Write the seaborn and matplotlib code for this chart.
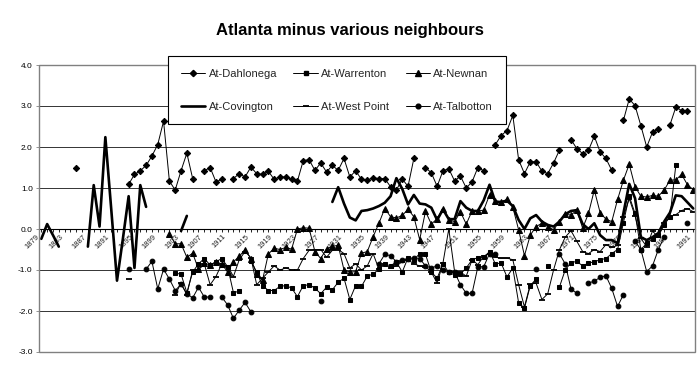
import numpy as np
import pandas as pd
import matplotlib
matplotlib.use("Agg")
import matplotlib.pyplot as plt
import seaborn as sns
from matplotlib.lines import Line2D
from matplotlib.patches import Rectangle

N = None
years = list(range(1879, 1992))

dahlonega = [N,
    N, N, N, N, N, 1.50, N, N, N, N,
    N, N, N, N, 1.09, 1.33, 1.42, 1.55, 1.78, 2.06,
    2.63, 1.17, 0.95, 1.42, 1.85, 1.23, N, 1.42, 1.50, 1.15,
    1.21, N, 1.23, 1.35, 1.27, 1.51, 1.35, 1.33, 1.41, 1.21,
    1.27, 1.27, 1.21, 1.17, 1.67, 1.69, 1.43, 1.61, 1.39, 1.55,
    1.43, 1.72, 1.27, 1.42, 1.21, 1.19, 1.25, 1.23, 1.23, 1.03,
    0.95, 1.22, 1.04, 1.72, N, 1.50, 1.37, 1.04, 1.42, 1.47,
    1.17, 1.29, 1.00, 1.15, 1.50, 1.42, N, 2.06, 2.28, 2.40,
    2.77, 1.69, 1.35, 1.64, 1.64, 1.41, 1.35, 1.61, 1.92, N,
    2.18, 1.96, 1.84, 1.92, 2.26, 1.88, 1.72, 1.43, N, 2.65,
    3.17, 3.01, 2.52, 2.00, 2.36, 2.44, N, 2.54, 2.97, 2.89,
    2.87, N]

warrenton = [N,
    N, N, N, N, N, N, N, N, N, N,
    N, N, N, N, N, N, N, N, N, N,
    N, N, -1.08, -1.10, -1.55, -1.05, -0.85, -0.72, -0.88, -0.80,
    -0.72, -0.92, -1.55, -1.52, N, -0.78, -1.05, -1.38, -1.50, -1.50,
    -1.40, -1.38, -1.44, -1.65, -1.38, -1.36, -1.44, -1.58, -1.42, -1.48,
    -1.30, -1.20, -1.72, -1.38, -1.40, -1.15, -1.10, -0.98, -0.85, -0.90,
    -0.80, -1.05, -0.70, -0.75, -0.60, -0.62, -1.05, -1.20, -0.85, -1.06,
    -1.12, -1.10, -0.95, -0.75, -0.70, -0.69, -0.55, -0.85, -0.83, -1.17,
    -0.95, -1.80, -1.93, -1.38, -1.22, N, -0.91, N, -1.42, -1.00,
    -0.82, -0.79, -0.90, -0.83, -0.80, -0.75, -0.72, -0.60, -0.50, 0.15,
    0.80, 0.38, -0.50, -0.35, -0.25, -0.15, 0.10, 0.30, 1.55, N,
    N, N]

newnan = [N,
    N, N, N, N, N, N, N, N, N, N,
    N, N, N, N, N, N, N, N, N, N,
    N, -0.12, -0.36, -0.36, -0.69, -0.59, -0.98, -0.83, -0.88, -0.80,
    -0.85, -1.05, -0.80, -0.67, -0.50, -0.72, -1.10, -1.25, -0.61, -0.47,
    -0.50, -0.45, -0.49, 0.00, 0.03, 0.02, -0.55, -0.72, -0.48, -0.42,
    -0.40, -1.00, -1.05, -1.04, -0.59, -0.55, -0.19, 0.14, 0.50, 0.30,
    0.27, 0.33, 0.48, 0.30, -0.26, 0.43, 0.12, 0.25, 0.50, 0.22,
    0.18, 0.42, 0.12, 0.44, 0.44, 0.46, 0.83, 0.69, 0.66, 0.72,
    0.53, -0.02, -0.65, -0.15, 0.06, 0.14, 0.06, -0.02, 0.18, 0.36,
    0.34, 0.46, 0.02, 0.38, 0.95, 0.40, 0.24, 0.18, 0.72, 1.19,
    1.58, 1.03, 0.80, 0.78, 0.82, 0.80, 0.95, 1.19, 1.20, 1.33,
    1.08, 0.96]

covington = [-0.24,
    0.12, -0.15, -0.43, N, N, N, N, -0.43, 1.07, 0.06,
    2.24, 0.50, -1.26, -0.25, 0.80, -0.95, 1.07, 0.54, N, N,
    N, N, N, -0.05, 0.32, N, N, N, N, N,
    N, N, N, N, N, N, N, N, N, N,
    N, N, N, N, N, N, N, N, N, 0.66,
    1.02, 0.62, 0.28, 0.21, 0.44, 0.46, 0.50, 0.56, 0.64, 0.80,
    1.24, 0.98, 0.60, 0.83, 0.62, 0.60, 0.52, 0.22, 0.48, 0.24,
    0.24, 0.68, 0.52, 0.44, 0.44, 0.70, 1.08, 0.66, 0.66, 0.69,
    0.56, 0.22, 0.00, 0.26, 0.34, 0.18, 0.10, 0.06, 0.18, 0.36,
    0.44, 0.46, 0.12, 0.00, 0.14, -0.15, -0.27, -0.27, -0.35, 0.38,
    1.10, 0.75, -0.20, -0.27, -0.20, -0.10, 0.18, 0.40, 0.82, 0.80,
    0.65, 0.50]

west_point = [N,
    N, N, N, N, N, N, N, N, N, N,
    N, N, N, N, -1.22, N, N, N, N, N,
    N, N, -1.60, -1.32, -1.60, -1.00, -1.00, -0.85, -1.36, -1.16,
    -0.85, -0.90, -1.16, -0.75, -0.55, -0.70, -1.36, -1.20, -1.05, -0.90,
    -1.00, -0.95, -1.00, -1.00, -0.72, -0.52, -0.50, -0.50, -0.69, -0.52,
    -0.50, -0.60, -0.95, -0.85, -1.00, -0.90, -0.60, -0.98, -0.85, -0.95,
    -0.90, -0.80, -0.75, -0.85, -0.90, -0.92, -1.05, -1.32, -0.83, 0.00,
    -1.04, -1.05, -1.15, -0.75, -0.87, -0.66, -0.60, -0.69, -0.71, -0.71,
    -0.75, -1.36, -1.90, -1.35, -1.32, -1.72, -1.58, -1.00, -0.51, -0.20,
    -0.04, -0.30, -0.55, -0.60, -0.50, -0.55, -0.38, -0.45, -0.40, 0.30,
    0.74, 0.32, -0.23, -0.43, -0.05, -0.20, 0.14, 0.30, 0.35, 0.45,
    0.50, 0.42]

talbotton = [N,
    N, N, N, N, N, N, N, N, N, N,
    N, N, N, N, -0.98, N, N, -0.98, -0.79, -1.46,
    -0.98, -1.22, -1.50, -1.35, -1.58, -1.68, -1.42, -1.66, -1.66, N,
    -1.66, -1.85, -2.18, -1.98, -1.79, -2.02, N, N, N, N,
    N, N, N, N, N, N, N, -1.75, N, N,
    N, N, N, N, N, N, N, -0.85, -0.62, -0.65,
    -0.80, -0.75, -0.72, -0.70, -0.72, -0.90, -0.95, -0.90, -1.00, -1.05,
    -1.05, -1.36, -1.57, -1.57, -0.92, -0.92, -0.60, -0.62, N, N,
    N, N, N, N, -0.98, N, N, N, -0.60, -0.85,
    -1.46, -1.57, N, -1.32, -1.27, -1.18, -1.14, -1.45, -1.89, -1.60,
    N, -0.30, -0.50, -1.04, -0.90, -0.50, -0.20, N, N, N,
    0.14, N]

series_names = ["At-Dahlonega", "At-Warrenton", "At-Newnan",
                "At-Covington", "At-West Point", "At-Talbotton"]
series_values = [dahlonega, warrenton, newnan, covington, west_point, talbotton]

styles = {
    "At-Dahlonega": dict(marker="D", ms=3.2, lw=0.7),
    "At-Warrenton": dict(marker="s", ms=3.3, lw=0.7),
    "At-Newnan": dict(marker="^", ms=3.9, lw=0.7),
    "At-Covington": dict(marker=None, ms=0, lw=1.9),
    "At-West Point": dict(marker="_", ms=5, lw=0.7, mew=1.3),
    "At-Talbotton": dict(marker="o", ms=3.4, lw=0.7),
}

sns.set_theme(style="white")
plt.rcParams["font.family"] = ["Liberation Sans", "DejaVu Sans"]
plt.rcParams["axes.unicode_minus"] = False

fig = plt.figure(figsize=(7, 3.72), dpi=100)
fig.patch.set_facecolor("white")
ax = fig.add_axes([39 / 700, 1 - 352 / 372, 656 / 700, 287 / 372])
ax.set_facecolor("white")

for name, vals in zip(series_names, series_values):
    s = pd.Series(vals, dtype=float)
    df = pd.DataFrame({"x": np.arange(len(s)), "v": s, "seg": s.isna().cumsum()}).dropna()
    st = styles[name]
    kw = dict(color="black", lw=st["lw"], ms=st["ms"], mec="black", mfc="black")
    if st["marker"]:
        kw["marker"] = st["marker"]
    if "mew" in st:
        kw["mew"] = st["mew"]
    sns.lineplot(data=df, x="x", y="v", units="seg", estimator=None, sort=False,
                 ax=ax, legend=False, zorder=3, **kw)

ax.set_xlim(-0.4, 112.3)
ax.set_ylim(-3, 4)
ax.set_xlabel("")
ax.set_ylabel("")

# spines first (moving a spine resets the ticks)
for sp in ["top", "right", "left"]:
    ax.spines[sp].set_visible(False)
ax.spines["bottom"].set_position(("data", 0))
ax.spines["bottom"].set_color("black")
ax.spines["bottom"].set_linewidth(0.8)
ax.add_patch(Rectangle((0, 0), 1, 1, transform=ax.transAxes, fill=False,
                       edgecolor="#808080", lw=1.0, clip_on=False, zorder=4))

ax.tick_params(axis="x", which="both", direction="out", length=2.5, width=0.6,
               color="black", pad=0.5, bottom=True, labelrotation=45)
ax.tick_params(axis="y", which="major", direction="out", length=2.5, width=0.6,
               color="#808080", pad=2, left=True)

yt = np.arange(-3, 5)
ax.set_yticks(yt)
ax.set_yticklabels([f"{v:.1f}" for v in yt], fontsize=6, color="black")
ax.yaxis.grid(True, color="#333333", lw=0.7, zorder=0)
ax.xaxis.grid(False)
ax.set_axisbelow(True)

ax.set_xticks(range(len(years)), minor=True)
ax.set_xticks(range(0, len(years), 4))
ax.set_xticklabels([str(y) for y in years[::4]], fontsize=5.5, color="#222222",
                   rotation=45, ha="right", va="top")

handles = {}
for name in series_names:
    st = styles[name]
    handles[name] = Line2D([], [], color="black", lw=st["lw"], marker=st["marker"],
                           ms=st["ms"], mec="black", mfc="black", mew=st.get("mew", 1.0),
                           label=name)
order = ["At-Dahlonega", "At-Covington", "At-Warrenton", "At-West Point",
         "At-Newnan", "At-Talbotton"]
leg = fig.legend(handles=[handles[n] for n in order], loc="upper left",
                 bbox_to_anchor=(168 / 700, 1 - 56 / 372 - 0.2, 338 / 700, 0.2),
                 mode="expand", ncol=3, fontsize=8, frameon=True, fancybox=False,
                 shadow=False, edgecolor="black", facecolor="white", framealpha=1,
                 borderpad=1.15, labelspacing=2.05, handlelength=2.2,
                 handletextpad=0.3, borderaxespad=0, columnspacing=1.5)
leg.get_frame().set_linewidth(0.8)

fig.text(0.5, 1 - 30 / 372, "Atlanta minus various neighbours", ha="center",
         va="center", fontsize=12, fontweight="bold", color="black")

fig.savefig("out.png", dpi=100, facecolor="white")
